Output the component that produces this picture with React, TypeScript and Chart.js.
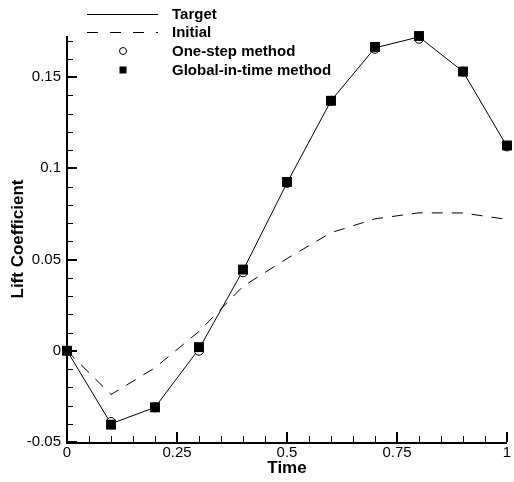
import React, { useEffect, useRef } from 'react';
import { Chart, registerables } from 'chart.js';

Chart.register(...registerables);

// ---- Data ----
const times = [0, 0.1, 0.2, 0.3, 0.4, 0.5, 0.6, 0.7, 0.8, 0.9, 1.0];
const targetValues = [0, -0.040, -0.031, 0.001, 0.044, 0.092, 0.137, 0.166, 0.172, 0.153, 0.112];
const initialValues = [0, -0.024, -0.0093, 0.0106, 0.0353, 0.0505, 0.0647, 0.0723, 0.0756, 0.0755, 0.072];
const oneStepValues = [0, -0.039, -0.031, 0.000, 0.043, 0.092, 0.137, 0.1655, 0.171, 0.153, 0.112];
const globalValues = [0, -0.0405, -0.031, 0.002, 0.0445, 0.0925, 0.137, 0.1665, 0.1725, 0.153, 0.1125];

const xMajorTicks = [0, 0.25, 0.5, 0.75, 1];
const yMajorTicks = [-0.05, 0, 0.05, 0.1, 0.15];
const xMinorStep = 0.05;
const yMinorStep = 0.01;
const xRange = [0, 1];
const yRange = [-0.05, 0.1725];

const legendLabels = ['Target', 'Initial', 'One-step method', 'Global-in-time method'];
const xTitle = 'Time';
const yTitle = 'Lift Coefficient';

const FONT = '"Liberation Sans", Arial, Helvetica, sans-serif';

const fmt = (v: number) => String(parseFloat(v.toFixed(4)));
const toPoints = (vals: number[]) => times.map((t, i) => ({ x: t, y: vals[i] }));

const axesPlugin = {
  id: 'tecAxes',
  afterDatasetsDraw(chart: any) {
    const { ctx, chartArea, scales } = chart;
    const { left, right, top, bottom } = chartArea;
    const x = scales.x;
    const y = scales.y;
    ctx.save();
    ctx.strokeStyle = '#000';
    // minor ticks
    ctx.lineWidth = 1;
    for (let i = 0; ; i++) {
      const v = x.min + i * xMinorStep;
      if (v > x.max + 1e-9) break;
      const px = Math.round(x.getPixelForValue(v)) + 0.5;
      ctx.beginPath();
      ctx.moveTo(px, bottom);
      ctx.lineTo(px, bottom - 6);
      ctx.stroke();
    }
    for (let i = 0; ; i++) {
      const v = y.min + i * yMinorStep;
      if (v > y.max + 1e-9) break;
      const py = Math.round(y.getPixelForValue(v)) + 0.5;
      ctx.beginPath();
      ctx.moveTo(left, py);
      ctx.lineTo(left + 6, py);
      ctx.stroke();
    }
    // major ticks
    ctx.lineWidth = 2;
    xMajorTicks.forEach((v) => {
      const px = Math.round(x.getPixelForValue(v));
      ctx.beginPath();
      ctx.moveTo(px, bottom);
      ctx.lineTo(px, bottom - 10);
      ctx.stroke();
    });
    yMajorTicks.forEach((v) => {
      const py = Math.round(y.getPixelForValue(v));
      ctx.beginPath();
      ctx.moveTo(left, py);
      ctx.lineTo(left + 10, py);
      ctx.stroke();
    });
    // axis lines
    ctx.beginPath();
    ctx.moveTo(left, top);
    ctx.lineTo(left, bottom + 1);
    ctx.lineTo(right, bottom + 1);
    ctx.stroke();
    ctx.restore();
  },
};

const legendPlugin = {
  id: 'tecLegend',
  afterDraw(chart: any) {
    const ctx = chart.ctx;
    const x0 = 87, x1 = 158, tx = 172, mx = 123;
    const rows = [14, 32, 51, 70];
    ctx.save();
    ctx.strokeStyle = '#000';
    ctx.fillStyle = '#000';
    ctx.lineWidth = 1;
    ctx.beginPath();
    ctx.moveTo(x0, rows[0] + 0.5);
    ctx.lineTo(x1, rows[0] + 0.5);
    ctx.stroke();
    ctx.setLineDash([11, 12]);
    ctx.beginPath();
    ctx.moveTo(x0, rows[1] + 0.5);
    ctx.lineTo(x1, rows[1] + 0.5);
    ctx.stroke();
    ctx.setLineDash([]);
    ctx.beginPath();
    ctx.arc(mx, rows[2], 3.5, 0, Math.PI * 2);
    ctx.fillStyle = '#fff';
    ctx.fill();
    ctx.stroke();
    ctx.fillStyle = '#000';
    ctx.fillRect(mx - 3.5, rows[3] - 3.5, 7, 7);
    ctx.font = `bold 15px ${FONT}`;
    ctx.textBaseline = 'middle';
    ctx.textAlign = 'left';
    legendLabels.forEach((label, i) => ctx.fillText(label, tx, rows[i] + 1));
    ctx.restore();
  },
};

export default function App() {
  const canvasRef = useRef<HTMLCanvasElement | null>(null);

  useEffect(() => {
    if (!canvasRef.current) return;
    const chart = new Chart(canvasRef.current, {
      type: 'line',
      data: {
        datasets: [
          {
            label: legendLabels[3],
            data: toPoints(globalValues),
            showLine: false,
            pointStyle: 'rect',
            pointRadius: 7,
            pointBackgroundColor: '#000',
            pointBorderColor: '#000',
            pointBorderWidth: 0,
            order: 0,
            clip: false,
          },
          {
            label: legendLabels[2],
            data: toPoints(oneStepValues),
            showLine: false,
            pointStyle: 'circle',
            pointRadius: 4.5,
            pointBackgroundColor: '#fff',
            pointBorderColor: '#000',
            pointBorderWidth: 1,
            order: 1,
            clip: false,
          },
          {
            label: legendLabels[0],
            data: toPoints(targetValues),
            borderColor: '#000',
            borderWidth: 1,
            pointRadius: 0,
            tension: 0,
            order: 2,
            clip: false,
          },
          {
            label: legendLabels[1],
            data: toPoints(initialValues),
            borderColor: '#000',
            borderWidth: 1,
            borderDash: [11, 9],
            pointRadius: 0,
            tension: 0,
            order: 3,
            clip: false,
          },
        ],
      },
      options: {
        animation: false,
        responsive: true,
        maintainAspectRatio: false,
        events: [],
        layout: { padding: { top: 36, right: 2, left: 0, bottom: 0 } },
        plugins: {
          legend: { display: false },
          tooltip: { enabled: false },
        },
        scales: {
          x: {
            type: 'linear',
            min: xRange[0],
            max: xRange[1],
            grid: { display: false, drawTicks: false },
            border: { display: false },
            afterBuildTicks: (scale: any) => {
              scale.ticks = xMajorTicks.map((v) => ({ value: v }));
            },
            afterFit: (scale: any) => {
              scale.height = 40;
              scale.paddingLeft = 0;
              scale.paddingRight = 0;
            },
            ticks: {
              color: '#000',
              padding: 2,
              maxRotation: 0,
              autoSkip: false,
              font: { family: FONT, size: 15 },
              callback: (v: any) => fmt(Number(v)),
            },
            title: {
              display: true,
              text: xTitle,
              color: '#000',
              font: { family: FONT, size: 17, weight: 'bold' },
              padding: { top: 0, bottom: 3 },
            },
          },
          y: {
            type: 'linear',
            min: yRange[0],
            max: yRange[1],
            grid: { display: false, drawTicks: false },
            border: { display: false },
            afterBuildTicks: (scale: any) => {
              scale.ticks = yMajorTicks.map((v) => ({ value: v }));
            },
            afterFit: (scale: any) => {
              scale.width = 67;
              scale.paddingTop = 0;
              scale.paddingBottom = 0;
            },
            ticks: {
              color: '#000',
              padding: 6,
              autoSkip: false,
              font: { family: FONT, size: 15 },
              callback: (v: any) => fmt(Number(v)),
            },
            title: {
              display: true,
              text: yTitle,
              color: '#000',
              font: { family: FONT, size: 17, weight: 'bold' },
              padding: { top: 8, bottom: 0 },
            },
          },
        },
      },
      plugins: [axesPlugin, legendPlugin],
    } as any);
    return () => chart.destroy();
  }, []);

  return (
    <div style={{ position: 'absolute', left: 0, top: 0, width: 514, height: 482, background: '#fff' }}>
      <canvas ref={canvasRef} />
    </div>
  );
}
